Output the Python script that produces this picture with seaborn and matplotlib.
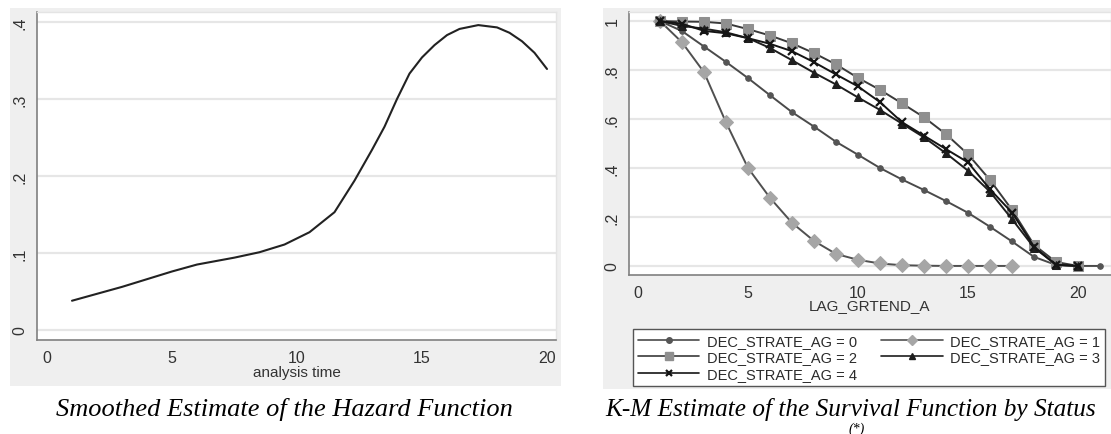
import matplotlib
matplotlib.use("Agg")
import matplotlib.pyplot as plt
import seaborn as sns
import pandas as pd
from matplotlib.patches import Rectangle
from matplotlib.lines import Line2D

# ---------------- data ----------------
hazard_time = [1, 2, 3, 4, 5, 6, 7, 7.5, 8.5, 9.5, 10.5, 11.5, 12.3, 13, 13.5, 14,
               14.5, 15, 15.5, 16, 16.5, 17.25, 18, 18.5, 19, 19.5, 20]
hazard_value = [0.038, 0.047, 0.056, 0.066, 0.076, 0.085, 0.091, 0.094, 0.101, 0.111,
                0.127, 0.153, 0.194, 0.234, 0.264, 0.300, 0.333, 0.354, 0.370, 0.383,
                0.391, 0.396, 0.393, 0.386, 0.375, 0.360, 0.339]

hazard_xticks = [0, 5, 10, 15, 20]
hazard_yticks = [0, 0.1, 0.2, 0.3, 0.4]
hazard_ylabels = ["0", ".1", ".2", ".3", ".4"]

km_time_0 = list(range(1, 22))
km_surv_0 = [1.0, 0.959, 0.896, 0.833, 0.767, 0.697, 0.628, 0.569, 0.507, 0.454, 0.400,
             0.353, 0.310, 0.265, 0.217, 0.160, 0.100, 0.037, 0.004, 0.0, 0.0]
km_time_1 = list(range(1, 18))
km_surv_1 = [1.0, 0.913, 0.791, 0.586, 0.400, 0.278, 0.176, 0.102, 0.049, 0.025, 0.010,
             0.003, 0.001, 0.0, 0.0, 0.0, 0.0]
km_time_2 = list(range(1, 21))
km_surv_2 = [1.0, 0.998, 0.997, 0.990, 0.967, 0.941, 0.909, 0.869, 0.823, 0.768, 0.719,
             0.664, 0.607, 0.538, 0.456, 0.351, 0.229, 0.086, 0.016, 0.0]
km_time_3 = list(range(1, 21))
km_surv_3 = [1.0, 0.980, 0.969, 0.954, 0.930, 0.890, 0.840, 0.789, 0.741, 0.688, 0.637,
             0.581, 0.525, 0.460, 0.389, 0.303, 0.191, 0.075, 0.005, 0.0]
km_time_4 = list(range(1, 21))
km_surv_4 = [1.0, 0.989, 0.960, 0.950, 0.930, 0.907, 0.877, 0.832, 0.782, 0.733, 0.669,
             0.587, 0.532, 0.477, 0.423, 0.313, 0.218, 0.079, 0.004, 0.0]

km_labels = ["DEC_STRATE_AG = 0", "DEC_STRATE_AG = 1", "DEC_STRATE_AG = 2",
             "DEC_STRATE_AG = 3", "DEC_STRATE_AG = 4"]
km_xticks = [0, 5, 10, 15, 20]
km_yticks = [0, 0.2, 0.4, 0.6, 0.8, 1.0]
km_ylabels = ["0", ".2", ".4", ".6", ".8", "1"]

caption_left = "Smoothed Estimate of the Hazard Function"
caption_right = "K-M Estimate of the Survival Function by Status"

# ---------------- style ----------------
sns.set_style("white")
plt.rcParams["font.family"] = ["Liberation Sans", "DejaVu Sans"]

W, H = 1111, 435
fig = plt.figure(figsize=(W / 100, H / 100), dpi=100)

def fx(x):
    return x / W

def fy(y):
    return 1 - y / H

bg = "#efefef"
fig.patches.append(Rectangle((fx(10), fy(387)), fx(561 - 10), (387 - 9) / H,
                             transform=fig.transFigure, facecolor=bg, edgecolor="none", zorder=-5))
fig.patches.append(Rectangle((fx(603), fy(390)), fx(1111 - 603), (390 - 9) / H,
                             transform=fig.transFigure, facecolor=bg, edgecolor="none", zorder=-5))

tick_color = "#333333"
axis_color = "#808080"
grid_color = "#e6e6e6"


def style_axes(ax):
    ax.set_facecolor("white")
    for s in ["left", "bottom"]:
        ax.spines[s].set_color(axis_color)
        ax.spines[s].set_linewidth(1.2)
    for s in ["top", "right"]:
        ax.spines[s].set_color("#e4e4e4")
        ax.spines[s].set_linewidth(1.0)
    ax.tick_params(axis="both", direction="out", length=4, width=1, color=axis_color,
                   labelsize=11.5, labelcolor=tick_color, pad=3)
    ax.grid(axis="y", color=grid_color, linewidth=1.6)
    ax.grid(axis="x", visible=False)
    ax.set_axisbelow(True)


# ---------------- left: hazard ----------------
axL = fig.add_axes([fx(37), fy(341), fx(556 - 37), (341 - 13) / H])
haz = pd.DataFrame({"time": hazard_time, "hazard": hazard_value})
sns.lineplot(data=haz, x="time", y="hazard", ax=axL, color="#222222", linewidth=1.5)
axL.set_xlim(-0.4, 20.36)
axL.set_ylim(-0.013, 0.413)
axL.set_xticks(hazard_xticks)
axL.set_xticklabels([str(t) for t in hazard_xticks])
axL.set_yticks(hazard_yticks)
axL.set_yticklabels(hazard_ylabels, rotation=90, va="center")
axL.set_xlabel("analysis time", fontsize=11, color=tick_color, labelpad=0)
axL.set_ylabel("")
style_axes(axL)

# ---------------- right: KM ----------------
axR = fig.add_axes([fx(629), fy(276), fx(1111 - 629), (276 - 13) / H])
series = [
    (km_time_0, km_surv_0, dict(color="#4a4a4a", marker="o", markersize=4,
                                markerfacecolor="#555555", markeredgecolor="#555555")),
    (km_time_1, km_surv_1, dict(color="#505050", marker="D", markersize=7,
                                markerfacecolor="#a6a6a6", markeredgecolor="#a6a6a6")),
    (km_time_2, km_surv_2, dict(color="#3a3a3a", marker="s", markersize=6.5,
                                markerfacecolor="#8f8f8f", markeredgecolor="#8f8f8f")),
    (km_time_3, km_surv_3, dict(color="#1e1e1e", marker="^", markersize=6,
                                markerfacecolor="#1e1e1e", markeredgecolor="#1e1e1e")),
    (km_time_4, km_surv_4, dict(color="#151515", marker="x", markersize=6,
                                markeredgewidth=1.6, markeredgecolor="#151515")),
]
legend_marker_scale = [1.0, 0.8, 0.8, 0.8, 0.8]
handles = []
for (t, s, kw), lab, ms in zip(series, km_labels, legend_marker_scale):
    df = pd.DataFrame({"t": t, "s": s})
    sns.lineplot(data=df, x="t", y="s", ax=axR, linewidth=1.4, **kw)
    hkw = dict(kw)
    hkw["markersize"] = kw["markersize"] * ms
    handles.append(Line2D([0], [0], linewidth=1.2, label=lab, **hkw))

axR.set_xlim(-0.41, 21.5)
axR.set_ylim(-0.037, 1.037)
axR.set_xticks(km_xticks)
axR.set_xticklabels([str(t) for t in km_xticks])
axR.set_yticks(km_yticks)
axR.set_yticklabels(km_ylabels, rotation=90, va="center")
axR.set_xlabel("LAG_GRTEND_A", fontsize=11, color=tick_color, labelpad=-1)
axR.set_ylabel("")
style_axes(axR)

order = [0, 2, 4, 1, 3]
leg = fig.legend([handles[i] for i in order], [km_labels[i] for i in order],
                 ncol=2, loc="center",
                 bbox_to_anchor=(fx(633), fy(387), fx(1105 - 633), (387 - 330) / H),
                 mode="expand", frameon=True, fancybox=False, edgecolor="#555555",
                 facecolor="white", framealpha=1, fontsize=10.5, handlelength=4.2,
                 numpoints=1, labelspacing=0.15, borderpad=0.35, columnspacing=1.5,
                 handletextpad=0.5, borderaxespad=0)
for txt in leg.get_texts():
    txt.set_color("#2a2a2a")
leg.get_frame().set_linewidth(1.0)

# ---------------- captions ----------------
serif = ["Liberation Serif", "DejaVu Serif"]
fig.text(fx(284), fy(410), caption_left, family=serif,
         style="italic", fontsize=19, ha="center", va="center", color="black")
fig.text(fx(605), fy(410), caption_right, family=serif,
         style="italic", fontsize=18.2, ha="left", va="center", color="black")
fig.text(fx(857), fy(429), "(*)", family=serif,
         style="italic", fontsize=10, ha="center", va="center", color="black")

fig.savefig("out.png", dpi=100)
